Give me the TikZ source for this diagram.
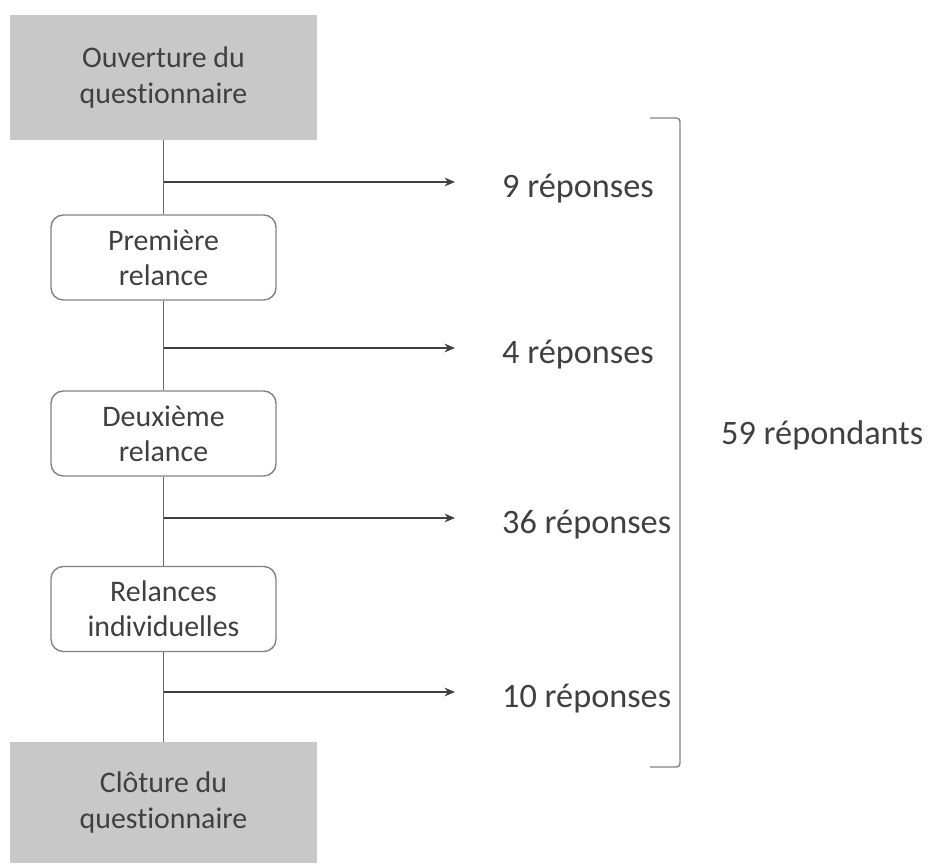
\documentclass[tikz,border=0pt]{standalone}
\usepackage{fontspec}
\setmainfont[Ligatures=NoCommon]{Carlito}
\usetikzlibrary{arrows.meta,positioning,calc}
\definecolor{boxgray}{RGB}{200,200,200}
\definecolor{edge}{RGB}{130,130,130}
\definecolor{ink}{RGB}{64,64,64}
\tikzset{
  endbox/.style={rectangle, fill=boxgray, minimum width=6.14cm,
                 align=center, font=\fontsize{17}{20}\selectfont, text=ink},
  relbox/.style={rectangle, draw=edge, thick, fill=white, rounded corners=7pt,
                 minimum width=4.5cm, minimum height=1.7cm,
                 align=center, font=\fontsize{17}{20}\selectfont, text=ink},
  arr/.style={-{Stealth[length=6pt,width=5pt]}, semithick, color=ink},
  reps/.style={anchor=west, font=\fontsize{19.5}{23}\selectfont, text=ink},
}
\begin{document}
\begin{tikzpicture}
    \useasboundingbox (0,0) rectangle (18.62,17.26);
    % start and end of the survey
    \node[endbox, minimum height=2.5cm]  (open)  at (3.27,15.71) {Ouverture du\\questionnaire};
    \node[endbox, minimum height=2.42cm] (close) at (3.27,1.21)  {Clôture du\\questionnaire};
    % reminders
    \node[relbox] (rel1) at (3.27,12.11) {Première\\relance};
    \node[relbox] (rel2) at (3.27,8.59)  {Deuxième\\relance};
    \node[relbox] (rel3) at (3.27,5.08)  {Relances\\individuelles};
    \draw[thin, edge!80!black] (open) -- (rel1) -- (rel2) -- (rel3) -- (close);
    % answers after each step
    \foreach \i/\y/\txt in {1/13.62/9 réponses, 2/10.30/4 réponses,
                            3/6.90/36 réponses, 4/3.42/10 réponses}{
      \coordinate (s\i) at (3.27,\y);
      \coordinate (e\i) at (9.1,\y);
      \draw[arr] (s\i) -- (e\i);
      \node[reps] (r\i) at (9.92,\y-0.14) {\txt};
    }
    % bracket and total
    \coordinate (bt) at (13.0,14.9);
    \coordinate (bb) at (13.0,1.92);
    \draw[edge, thick, rounded corners=2pt] (bt) -- ++(0.6,0) |- (bb);
    \node[reps] (total) at (14.3,8.56) {59 répondants};
\end{tikzpicture}
\end{document}
